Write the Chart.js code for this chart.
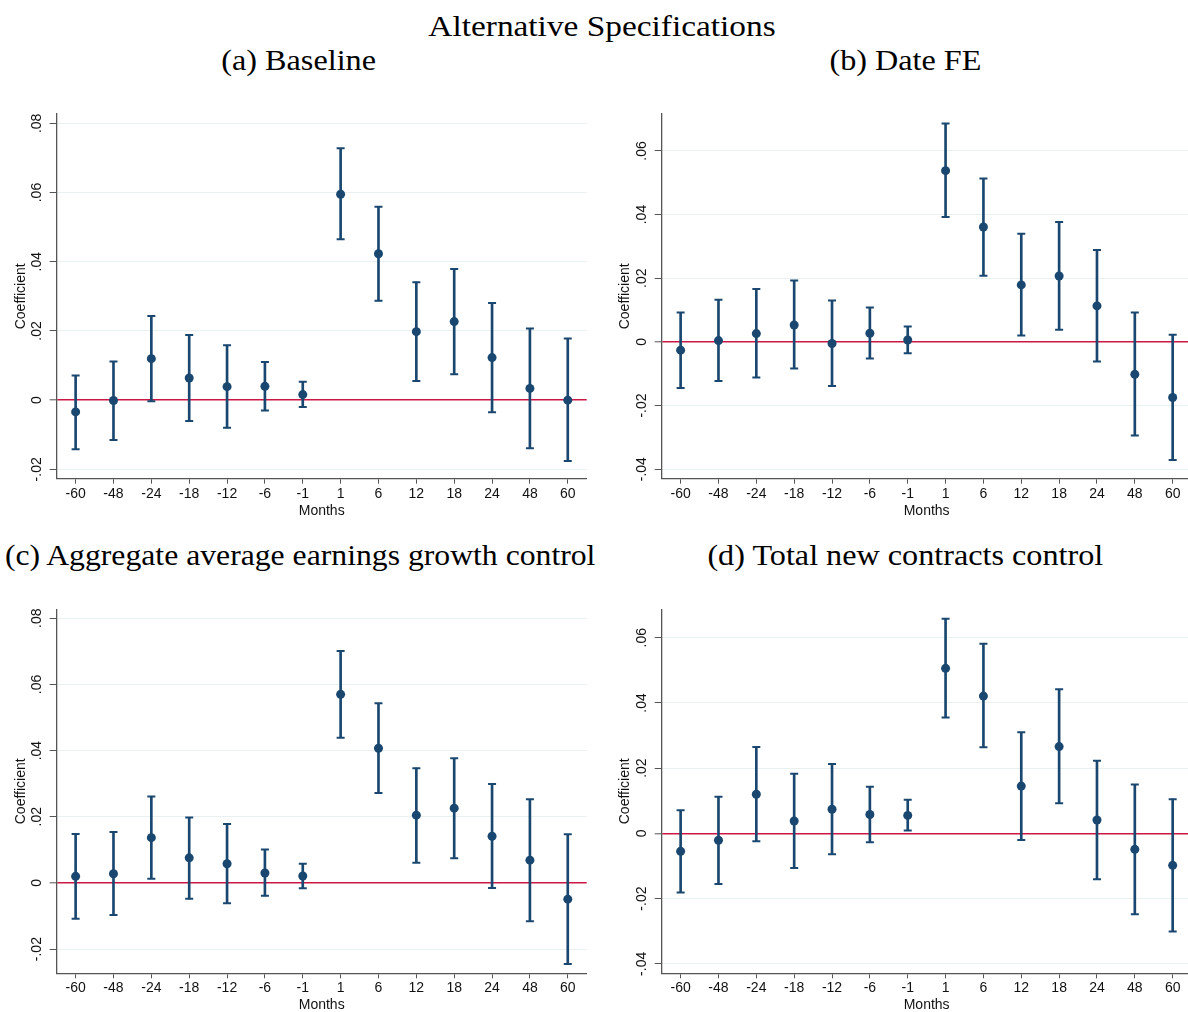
<!DOCTYPE html>
<html>
<head>
<meta charset="utf-8">
<script src="https://cdn.jsdelivr.net/npm/chart.js@4/dist/chart.umd.min.js"></script>
<style>
html,body{margin:0;padding:0;background:#fff;}
body{width:1188px;height:1012px;overflow:hidden;position:relative;}
.t{position:absolute;font-family:"Liberation Serif","Times New Roman",serif;font-size:29px;line-height:34px;color:#000;white-space:nowrap;text-align:center;width:800px;}
.t span{display:inline-block;transform:scaleX(1.11);transform-origin:center;}
.t.main span{transform:scaleX(1.15);}
.t.long span{transform:scaleX(1.093);}
.p{position:absolute;width:600px;height:430px;}
</style>
</head>
<body>
<div class="t main" style="left:202px;top:9px;"><span>Alternative Specifications</span></div>
<div class="t" style="left:-101px;top:43px;"><span>(a) Baseline</span></div>
<div class="t" style="left:505px;top:43px;"><span>(b) Date FE</span></div>
<div class="t long" style="left:-100px;top:538px;"><span>(c) Aggregate average earnings growth control</span></div>
<div class="t" style="left:505px;top:538px;"><span>(d) Total new contracts control</span></div>

<div class="p" style="left:0px;top:100px;"><canvas id="ca" width="600" height="430"></canvas></div>
<div class="p" style="left:600px;top:100px;"><canvas id="cb" width="600" height="430"></canvas></div>
<div class="p" style="left:0px;top:590px;"><canvas id="cc" width="600" height="430"></canvas></div>
<div class="p" style="left:600px;top:590px;"><canvas id="cd" width="600" height="430"></canvas></div>

<script>
// ---- data ----
const categories = ['-60','-48','-24','-18','-12','-6','-1','1','6','12','18','24','48','60'];

const coefA = [-0.0034, -0.0001, 0.0120, 0.0064, 0.0039, 0.0040, 0.0016, 0.0595, 0.0423, 0.0198, 0.0227, 0.0123, 0.0034, 0.0000];
const loA   = [-0.0142, -0.0115, -0.0003, -0.0060, -0.0080, -0.0030, -0.0020, 0.0465, 0.0287, 0.0055, 0.0075, -0.0035, -0.0139, -0.0176];
const hiA   = [ 0.0071,  0.0112,  0.0243,  0.0188,  0.0159,  0.0110,  0.0053, 0.0728, 0.0559, 0.0341, 0.0379,  0.0281,  0.0207,  0.0178];

const coefB = [-0.0026, 0.0004, 0.0026, 0.0053, -0.0005, 0.0027, 0.0006, 0.0538, 0.0361, 0.0179, 0.0207, 0.0113, -0.0102, -0.0175];
const loB   = [-0.0145, -0.0123, -0.0112, -0.0084, -0.0139, -0.0052, -0.0036, 0.0392, 0.0208, 0.0020, 0.0038, -0.0062, -0.0294, -0.0371];
const hiB   = [ 0.0092,  0.0132,  0.0166,  0.0193,  0.0130,  0.0108,  0.0048, 0.0686, 0.0513, 0.0340, 0.0377,  0.0289,  0.0092,  0.0022];

const coefC = [0.0020, 0.0028, 0.0137, 0.0076, 0.0058, 0.0030, 0.0021, 0.0570, 0.0407, 0.0205, 0.0226, 0.0141, 0.0069, -0.0049];
const loC   = [-0.0108, -0.0097, 0.0013, -0.0048, -0.0061, -0.0039, -0.0016, 0.0439, 0.0272, 0.0061, 0.0075, -0.0015, -0.0116, -0.0245];
const hiC   = [ 0.0148,  0.0154, 0.0261,  0.0198,  0.0178,  0.0101,  0.0058, 0.0701, 0.0543, 0.0347, 0.0377,  0.0299,  0.0253,  0.0147];

const coefD = [-0.0055, -0.0021, 0.0120, 0.0038, 0.0074, 0.0058, 0.0055, 0.0506, 0.0421, 0.0145, 0.0266, 0.0041, -0.0049, -0.0098];
const loD   = [-0.0181, -0.0155, -0.0024, -0.0106, -0.0064, -0.0027, 0.0009, 0.0355, 0.0264, -0.0020, 0.0092, -0.0141, -0.0248, -0.0301];
const hiD   = [ 0.0071,  0.0112,  0.0265,  0.0183,  0.0213,  0.0143, 0.0103, 0.0658, 0.0581,  0.0310, 0.0442,  0.0223,  0.0150,  0.0105];

const yTicksAC = [-0.02, 0, 0.02, 0.04, 0.06, 0.08];
const yTicksBD = [-0.04, -0.02, 0, 0.02, 0.04, 0.06];
const yRangeA = [-0.0227, 0.0827];
const yRangeB = [-0.0430, 0.0716];
const yRangeC = [-0.0273, 0.0827];
const yRangeD = [-0.0429, 0.0687];

// ---- styles ----
const NAVY = '#1a476f';
const GRID = '#e8f0f2';
const AXIS = '#555555';
const RED  = '#cc1744';
const TXT  = '#111111';
const SANS = "'Liberation Sans', Arial, sans-serif";

function fmt(v){
  if (Math.abs(v) < 1e-9) return '0';
  const s = Math.abs(v).toFixed(2).replace(/^0/, '');
  return (v < 0 ? '-' : '') + s;
}

function panel(id, left, top, coef, lo, hi, yTicks, yRange, geo){
  const W = 600, H = 430;
  const yW = geo.axisX - left;
  const padTop = geo.axisTop - top;
  const padRight = left + W - geo.axisRight;
  const xH = top + H - geo.axisBottom;
  const ytPad = geo.ytitleX - left - 8.4;
  const xtPad = (top + H) - (geo.axisBottom + 32) - 8.4;

  new Chart(document.getElementById(id), {
    data: {
      labels: categories,
      datasets: [
        { type: 'line', data: coef, showLine: false, pointRadius: 4.5, pointHoverRadius: 4.5,
          pointBackgroundColor: NAVY, pointBorderWidth: 0, borderColor: NAVY, order: 0 },
        { type: 'line', data: lo, showLine: false, pointStyle: 'line', pointRadius: 4, pointHoverRadius: 4,
          pointBorderWidth: 2, pointBorderColor: NAVY, borderColor: NAVY, order: 1 },
        { type: 'line', data: hi, showLine: false, pointStyle: 'line', pointRadius: 4, pointHoverRadius: 4,
          pointBorderWidth: 2, pointBorderColor: NAVY, borderColor: NAVY, order: 1 },
        { type: 'bar', data: lo.map((l, i) => [l, hi[i]]), backgroundColor: NAVY, borderWidth: 0,
          barThickness: 2, grouped: false, order: 2 }
      ]
    },
    options: {
      responsive: false,
      animation: false,
      events: [],
      layout: { padding: { left: 0, top: padTop, right: padRight, bottom: 0 } },
      plugins: { legend: { display: false }, tooltip: { enabled: false } },
      scales: {
        x: {
          type: 'category',
          offset: true,
          grid: { display: true, drawOnChartArea: false, drawTicks: true, tickLength: 5,
                  tickColor: AXIS, tickWidth: 1, offset: false },
          border: { display: true, color: AXIS, width: 1.3 },
          ticks: { color: TXT, font: { family: SANS, size: 14 }, padding: 1.6, maxRotation: 0, minRotation: 0, autoSkip: false },
          title: { display: true, text: 'Months', color: TXT, font: { family: SANS, size: 14 },
                   padding: { top: 0, bottom: xtPad } },
          afterFit: s => { s.height = xH; }
        },
        y: {
          type: 'linear',
          min: yRange[0], max: yRange[1],
          afterBuildTicks: s => { s.ticks = yTicks.map(v => ({ value: v })); },
          grid: {
            color: c => (c.tick && Math.abs(c.tick.value) < 1e-9) ? RED : GRID,
            lineWidth: c => (c.tick && Math.abs(c.tick.value) < 1e-9) ? 1.6 : 1,
            drawTicks: true, tickLength: 7, tickColor: AXIS, tickWidth: 1
          },
          border: { display: true, color: AXIS, width: 1.3 },
          ticks: { color: TXT, font: { family: SANS, size: 14 }, padding: 0,
                   minRotation: 90, maxRotation: 90, crossAlign: 'center',
                   callback: v => fmt(v) },
          title: { display: true, text: 'Coefficient', color: TXT, font: { family: SANS, size: 14 },
                   padding: { top: ytPad, bottom: 0 } },
          afterFit: s => { s.width = yW; }
        }
      }
    }
  });
}

panel('ca', 0, 100, coefA, loA, hiA, yTicksAC, yRangeA,
      { axisX: 56.7, axisTop: 114, axisBottom: 478.7, axisRight: 586.7, ytitleX: 21 });
panel('cb', 600, 100, coefB, loB, hiB, yTicksBD, yRangeB,
      { axisX: 661.7, axisTop: 114, axisBottom: 478.7, axisRight: 1191.6, ytitleX: 625.5 });
panel('cc', 0, 590, coefC, loC, hiC, yTicksAC, yRangeC,
      { axisX: 56.7, axisTop: 609.3, axisBottom: 973.3, axisRight: 586.7, ytitleX: 21 });
panel('cd', 600, 590, coefD, loD, hiD, yTicksBD, yRangeD,
      { axisX: 661.7, axisTop: 609.3, axisBottom: 973.3, axisRight: 1191.6, ytitleX: 625.5 });
</script>
</body>
</html>
